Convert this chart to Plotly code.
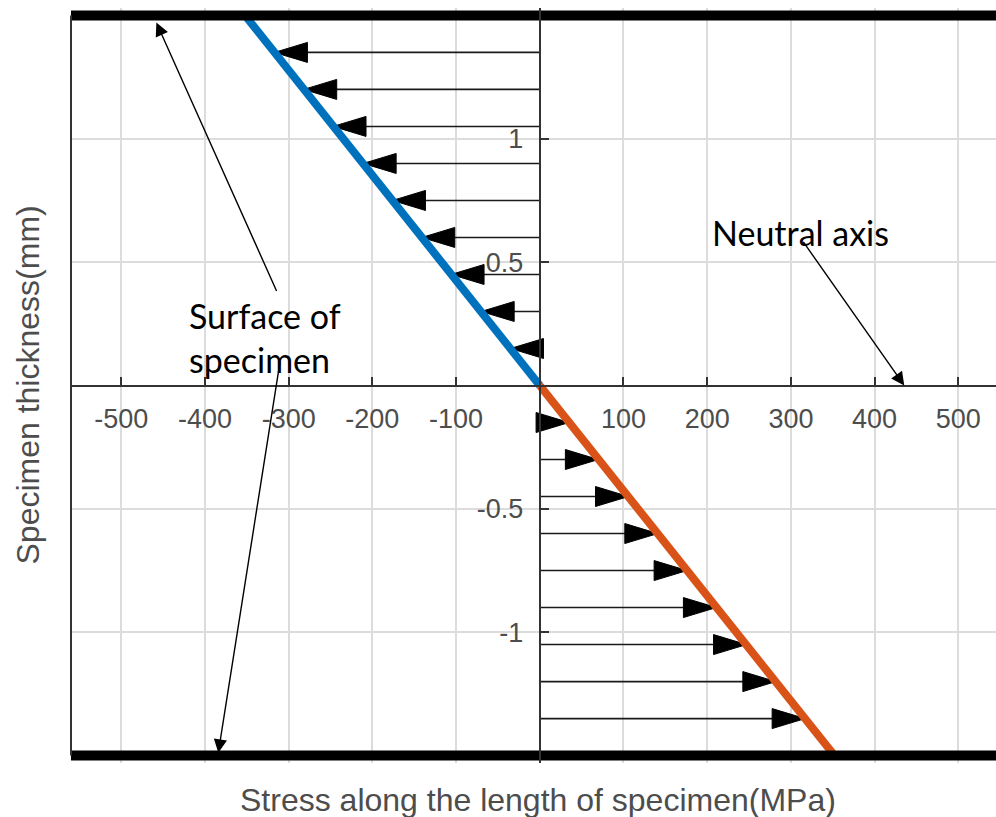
import plotly.graph_objects as go

# ---------------- data ----------------
# stress distribution line (MPa) vs thickness (mm)
thick_compression = [0, 1.5]
stress_compression = [0, -352]
thick_tension = [0, -1.5]
stress_tension = [0, 352]

# stress arrows (quiver) - thickness position and stress value at tip
arrow_thick_top = [1.35, 1.2, 1.05, 0.9, 0.75, 0.6, 0.45, 0.3, 0.15]
arrow_stress_top = [-317, -282, -247, -211, -176, -141, -106, -70, -35]
arrow_thick_bot = [-0.15, -0.3, -0.45, -0.6, -0.75, -0.9, -1.05, -1.2, -1.35]
arrow_stress_bot = [35, 70, 106, 141, 176, 211, 247, 282, 317]

# specimen surfaces
surface_thick = [1.5, -1.5]

# ticks
x_tickvals = [-500, -400, -300, -200, -100, 100, 200, 300, 400, 500]
x_ticktext = ['-500', '-400', '-300', '-200', '-100', '100', '200', '300', '400', '500']
y_tickvals = [-1, -0.5, 0.5, 1]
y_ticktext = ['-1', '-0.5', '0.5', '1']

# annotation callouts: (tail stress, tail thickness, head stress, head thickness)
surface_arrow_top = [-313.6, 0.377, -458, 1.471]
surface_arrow_bot = [-310, 0.103, -384, -1.488]
neutral_arrow = [313.6, 0.588, 435.4, 0.0]

# ---------------- layout geometry ----------------
X_RANGE = [-560, 545]
Y_RANGE = [-1.53, 1.53]
W, H = 996, 817
M = dict(l=71, r=0, t=8, b=54)
plot_w = W - M['l'] - M['r']
plot_h = H - M['t'] - M['b']
px_x = plot_w / (X_RANGE[1] - X_RANGE[0])
px_y = plot_h / (Y_RANGE[1] - Y_RANGE[0])

HEAD_LEN = 33 / px_x
HEAD_HALF = 10 / px_y

TICK_FONT = dict(family='Liberation Sans, Arial, sans-serif', size=27, color='#4d4d4d')
TITLE_FONT = dict(family='Liberation Sans, Arial, sans-serif', size=32, color='#4d4d4d')
NOTE_FONT = dict(family='Lato, Carlito, sans-serif', size=34, color='#000000')

fig = go.Figure()

# arrow shafts
def shafts(ys, ss):
    xs, yy = [], []
    for t, s in zip(ys, ss):
        xs += [0, s, None]
        yy += [t, t, None]
    return xs, yy

def heads(ys, ss):
    xs, yy = [], []
    for t, s in zip(ys, ss):
        d = 1 if s > 0 else -1
        bx = s - d * HEAD_LEN
        xs += [s, bx, bx, s, None]
        yy += [t, t + HEAD_HALF, t - HEAD_HALF, t, None]
    return xs, yy

for ys, ss in [(arrow_thick_top, arrow_stress_top), (arrow_thick_bot, arrow_stress_bot)]:
    sx, sy = shafts(ys, ss)
    fig.add_trace(go.Scatter(x=sx, y=sy, mode='lines',
                             line=dict(color='#1a1a1a', width=1.6),
                             hoverinfo='skip', showlegend=False))
    hx, hy = heads(ys, ss)
    fig.add_trace(go.Scatter(x=hx, y=hy, mode='lines', fill='toself',
                             fillcolor='#000000', line=dict(color='#000000', width=1),
                             hoverinfo='skip', showlegend=False))

# stress distribution lines
fig.add_trace(go.Scatter(x=stress_compression, y=thick_compression, mode='lines',
                         line=dict(color='#0072BD', width=8), showlegend=False))
fig.add_trace(go.Scatter(x=stress_tension, y=thick_tension, mode='lines',
                         line=dict(color='#D95319', width=8), showlegend=False))

# specimen surfaces (thick black lines)
for t in surface_thick:
    fig.add_trace(go.Scatter(x=[X_RANGE[0], X_RANGE[1]], y=[t, t], mode='lines',
                             line=dict(color='#000000', width=10),
                             hoverinfo='skip', showlegend=False))

y_axis_pos = (0 - X_RANGE[0]) / (X_RANGE[1] - X_RANGE[0])
x_axis_pos = (0 - Y_RANGE[0]) / (Y_RANGE[1] - Y_RANGE[0])

fig.update_layout(
    width=W, height=H, margin=M,
    paper_bgcolor='white', plot_bgcolor='white',
    showlegend=False,
    xaxis=dict(range=X_RANGE, anchor='free', position=x_axis_pos, side='bottom',
               tickmode='array', tickvals=x_tickvals, ticktext=x_ticktext,
               ticks='inside', ticklen=8, tickwidth=1.5, tickcolor='#333333',
               showline=True, linecolor='#333333', linewidth=2,
               showgrid=True, gridcolor='#dcdcdc', gridwidth=1.5,
               zeroline=False, tickfont=TICK_FONT, ticklabelstandoff=9),
    yaxis=dict(range=Y_RANGE, anchor='free', position=y_axis_pos, side='left',
               tickmode='array', tickvals=y_tickvals, ticktext=y_ticktext,
               ticks='inside', ticklen=8, tickwidth=1.5, tickcolor='#333333',
               showline=True, linecolor='#333333', linewidth=2,
               showgrid=True, gridcolor='#dcdcdc', gridwidth=1.5,
               zeroline=False, tickfont=TICK_FONT, ticklabelstandoff=10),
)

# left box edge
fig.add_shape(type='line', xref='paper', x0=0, x1=0, yref='y',
              y0=surface_thick[1], y1=surface_thick[0],
              line=dict(color='#333333', width=2))

# axis titles
fig.add_annotation(text='Stress along the length of specimen(MPa)', xref='paper', yref='paper',
                   x=(538 - M['l']) / plot_w, y=-37 / plot_h, xanchor='center', yanchor='middle',
                   showarrow=False, font=TITLE_FONT)
fig.add_annotation(text='Specimen thickness(mm)', xref='paper', yref='paper', textangle=-90,
                   x=(27 - M['l']) / plot_w, y=0.5, xanchor='center', yanchor='middle',
                   showarrow=False, font=TITLE_FONT)

# callout labels
fig.add_annotation(text='Surface of<br>specimen', x=-421, y=0.193, xref='x', yref='y',
                   xanchor='left', yanchor='middle', align='left', showarrow=False, font=NOTE_FONT)
fig.add_annotation(text='Neutral axis', x=311, y=0.622, xref='x', yref='y',
                   xanchor='center', yanchor='middle', showarrow=False, font=NOTE_FONT)

for a in [surface_arrow_top, surface_arrow_bot, neutral_arrow]:
    fig.add_annotation(text='', x=a[2], y=a[3], ax=a[0], ay=a[1], xref='x', yref='y',
                       axref='x', ayref='y', showarrow=True, arrowhead=2, arrowsize=1.9,
                       arrowwidth=1.4, arrowcolor='#000000', standoff=0, startstandoff=0)

fig.write_html('out.html')
